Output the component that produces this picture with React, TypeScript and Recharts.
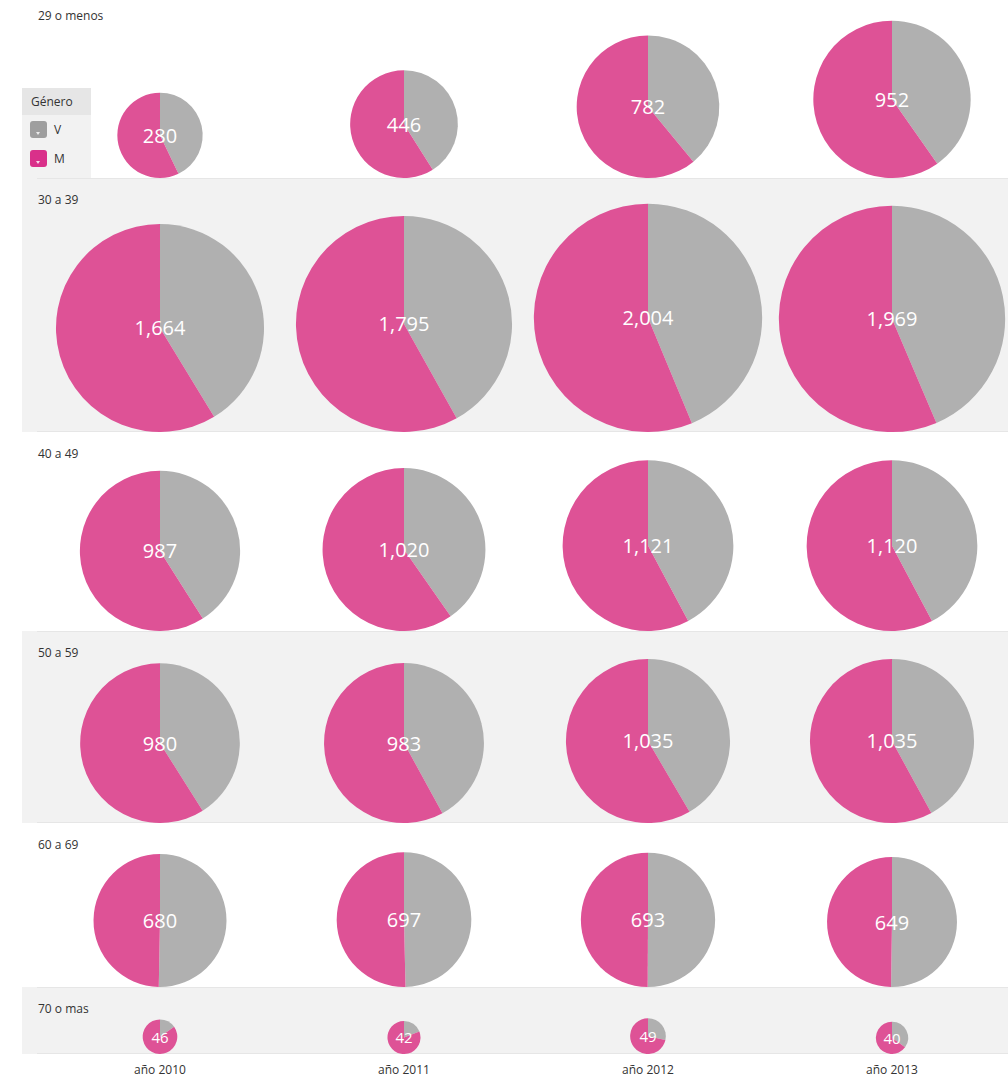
import React from "react";
import { Cell, Pie, PieChart } from "recharts";

const years = ["año 2010", "año 2011", "año 2012", "año 2013"];
const ageGroups = ["29 o menos", "30 a 39", "40 a 49", "50 a 59", "60 a 69", "70 o mas"];

// one row per age group, one value per year
const varones = [
  [120, 183, 305, 383],
  [687, 752, 876, 858],
  [405, 411, 473, 473],
  [402, 413, 430, 435],
  [342, 346, 347, 326],
  [7, 8, 14, 14],
];
const mujeres = [
  [160, 263, 477, 569],
  [977, 1043, 1128, 1111],
  [582, 609, 648, 647],
  [578, 570, 605, 600],
  [338, 351, 346, 323],
  [39, 34, 35, 26],
];

const ROW_HEIGHTS = [178, 254, 199, 192, 164, 67];
const COL_WIDTH = 244;
const PIE_SCALE = 2.55;
const GRAY = "#b0b0b0";
const PINK = "#de5296";
const FONT = "'Open Sans', 'Noto Sans', sans-serif";

const PieCell = ({ v, m, height }: { v: number; m: number; height: number }) => {
  const total = v + m;
  const r = PIE_SCALE * Math.sqrt(total);
  const data = [
    { name: "V", value: v },
    { name: "M", value: m },
  ];
  // total shown once, at the pie's centre
  const renderTotal = (props: any) =>
    props.index === 0 ? (
      <text
        x={props.cx}
        y={props.cy}
        textAnchor="middle"
        dominantBaseline="central"
        fill="#ffffff"
        fontSize={r < 30 ? 15 : 20}
        fontFamily={FONT}
      >
        {total.toLocaleString("en-US")}
      </text>
    ) : null;
  return (
    <PieChart width={COL_WIDTH} height={height} margin={{ top: 0, right: 0, bottom: 0, left: 0 }}>
      <Pie
        data={data}
        dataKey="value"
        cx="50%"
        cy={height - r}
        outerRadius={r}
        startAngle={90}
        endAngle={-270}
        stroke="none"
        label={renderTotal}
        labelLine={false}
        isAnimationActive={false}
      >
        <Cell fill={GRAY} />
        <Cell fill={PINK} />
      </Pie>
    </PieChart>
  );
};

const Swatch = ({ color }: { color: string }) => (
  <div
    style={{
      width: 17,
      height: 17,
      borderRadius: 3,
      background: color,
      position: "relative",
      display: "inline-block",
    }}
  >
    <div
      style={{
        position: "absolute",
        left: 6,
        bottom: 3,
        width: 0,
        height: 0,
        borderLeft: "2.5px solid transparent",
        borderRight: "2.5px solid transparent",
        borderTop: "3px solid rgba(255,255,255,0.8)",
      }}
    />
  </div>
);

export default function App() {
  let top = 0;
  const rows = ageGroups.map((group, i) => {
    const y = top;
    top += ROW_HEIGHTS[i];
    const shaded = i % 2 === 1;
    return (
      <div key={group} style={{ position: "absolute", left: 0, top: y, width: 1008, height: ROW_HEIGHTS[i] }}>
        {shaded && (
          <div style={{ position: "absolute", left: 22, top: 0, right: 0, bottom: 0, background: "#f2f2f2" }}>
            <div style={{ position: "absolute", left: 15, right: 0, top: 0, height: 1, background: "#e6e6e6" }} />
            <div style={{ position: "absolute", left: 15, right: 0, bottom: 0, height: 1, background: "#e6e6e6" }} />
          </div>
        )}
        <div
          style={{
            position: "absolute",
            left: 38,
            top: i === 0 ? 8 : 14,
            fontSize: 12,
            lineHeight: "16px",
            color: "#333",
          }}
        >
          {group}
        </div>
        <div style={{ position: "absolute", left: 38, top: 0, display: "flex" }}>
          {years.map((yr, j) => (
            <PieCell key={yr} v={varones[i][j]} m={mujeres[i][j]} height={ROW_HEIGHTS[i]} />
          ))}
        </div>
      </div>
    );
  });

  return (
    <div
      style={{
        position: "absolute",
        left: 0,
        top: 0,
        width: 1008,
        height: 1078,
        overflow: "hidden",
        background: "#fff",
        fontFamily: FONT,
      }}
    >
      {rows}
      {/* legend */}
      <div style={{ position: "absolute", left: 22, top: 88, width: 69, height: 90, background: "#f2f2f2" }}>
        <div style={{ height: 27, background: "#e6e6e6", fontSize: 12, lineHeight: "27px", paddingLeft: 9, color: "#333" }}>
          Género
        </div>
        <div style={{ display: "flex", alignItems: "center", marginTop: 6, marginLeft: 8 }}>
          <Swatch color="#9e9e9e" />
          <span style={{ fontSize: 12, marginLeft: 7, color: "#333" }}>V</span>
        </div>
        <div style={{ display: "flex", alignItems: "center", marginTop: 12, marginLeft: 8 }}>
          <Swatch color="#d9308a" />
          <span style={{ fontSize: 12, marginLeft: 7, color: "#333" }}>M</span>
        </div>
      </div>
      {/* x axis labels */}
      <div style={{ position: "absolute", left: 38, top: 1062, display: "flex" }}>
        {years.map((yr) => (
          <div key={yr} style={{ width: COL_WIDTH, textAlign: "center", fontSize: 12, lineHeight: "16px", color: "#333" }}>
            {yr}
          </div>
        ))}
      </div>
    </div>
  );
}
